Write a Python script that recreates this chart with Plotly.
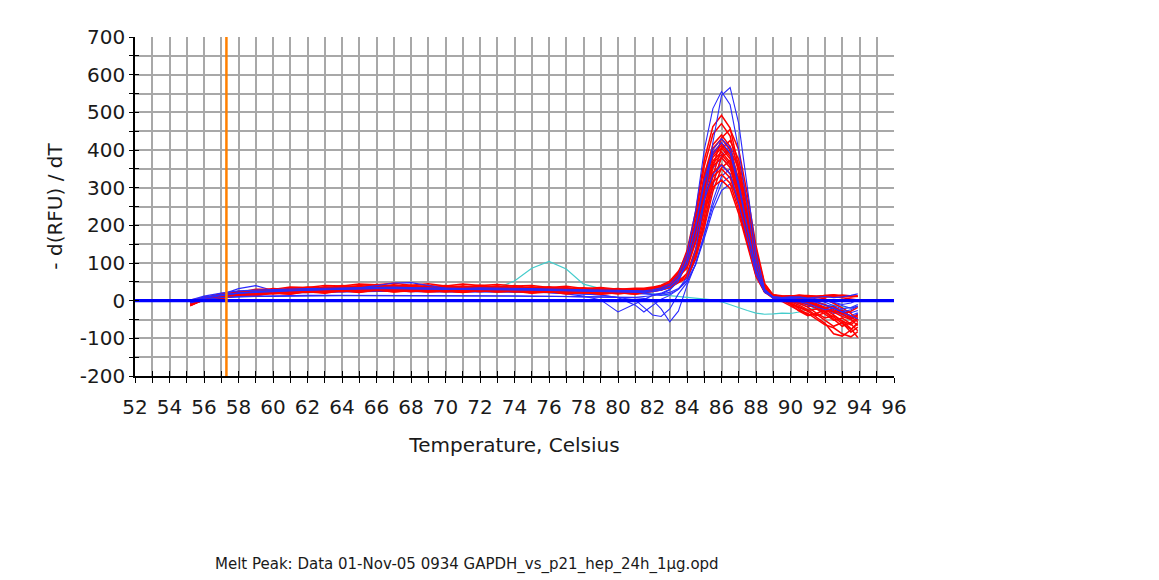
import plotly.graph_objects as go

# Melt-curve derivative data, -d(RFU)/dT versus temperature (Celsius)
TEMP_C = [55.2, 56, 57, 58, 59, 60, 61, 62, 63, 64, 65, 66, 67, 68, 69, 70,
          71, 72, 73, 74, 75, 76, 77, 78, 79, 80, 81, 81.5, 82, 82.5, 83, 83.5,
          84, 84.5, 85, 85.5, 86, 86.5, 87, 87.5, 88, 88.5, 89, 89.5, 90, 90.5,
          91, 91.5, 92, 92.5, 93, 93.5, 93.9]

# GAPDH wells (red)
red_01 = [-8, 8, 10, 21, 20, 27, 24, 31, 28, 34, 31, 37, 31, 34, 32, 33, 30, 36, 30, 33, 28, 32, 26, 29, 24, 27, 23,
          27, 30, 35, 46, 72, 133, 236, 374, 462, 492, 458, 354, 226, 98, 34,
          16, 13, 12, 14, 12, 10, 13, 15, 12, 10, 12]
red_02 = [-3, 4, 18, 18, 27, 25, 32, 29, 36, 33, 40, 35, 42, 35, 39, 34, 38, 33, 39, 32, 36, 30, 34, 28, 32, 26, 30,
          30, 33, 38, 48, 74, 127, 226, 357, 442, 470, 437, 338, 216, 94, 33,
          12, 8, 5, 2, -6, -15, -22, -30, -42, -50, -40]
red_03 = [-14, 4, 8, 17, 17, 22, 21, 26, 24, 29, 27, 30, 28, 30, 25, 30, 24, 29, 26, 28, 23, 27, 21, 24, 19, 23, 20,
          22, 24, 28, 35, 50, 73, 137, 237, 355, 432, 455, 400, 282, 146, 46,
          14, 8, -5, -22, -38, -36, -52, -68, -58, -84, -70]
red_04 = [2, 7, 19, 22, 30, 30, 36, 35, 40, 39, 44, 42, 46, 41, 45, 39, 44, 40, 43, 39, 40, 35, 38, 32, 35, 30, 33,
          33, 36, 41, 52, 78, 119, 211, 334, 414, 440, 409, 317, 202, 88, 31,
          10, 2, -10, -18, -28, -44, -60, -88, -94, -78, -58]
red_05 = [-6, 6, 9, 19, 18, 25, 22, 29, 25, 32, 28, 34, 29, 32, 29, 31, 28, 32, 29, 31, 26, 30, 24, 27, 22, 25, 22,
          25, 28, 33, 43, 68, 116, 206, 327, 404, 430, 400, 310, 198, 86, 30,
          12, 7, 1, -7, -17, -33, -46, -40, -54, -74, -98]
red_06 = [-2, 8, 11, 22, 21, 29, 26, 33, 30, 36, 33, 39, 34, 37, 34, 36, 33, 37, 32, 36, 30, 34, 28, 31, 26, 29, 25,
          26, 28, 31, 38, 54, 68, 128, 221, 332, 404, 425, 374, 264, 136, 43,
          15, 11, 6, -3, -11, -19, -30, -48, -68, -58, -44]
red_07 = [-10, 1, 11, 13, 19, 18, 23, 22, 26, 24, 28, 26, 29, 24, 29, 23, 28, 24, 29, 23, 26, 22, 24, 20, 23, 18, 23,
          23, 26, 31, 41, 65, 113, 201, 318, 393, 418, 389, 301, 192, 84, 29,
          15, 11, 13, 9, 3, -4, -11, -24, -36, -28, -18]
red_08 = [-4, 10, 14, 25, 24, 32, 29, 36, 33, 40, 37, 43, 38, 41, 37, 40, 36, 41, 36, 40, 33, 37, 31, 34, 29, 32, 27,
          30, 33, 37, 47, 70, 111, 198, 313, 387, 412, 383, 297, 190, 82, 29,
          10, 3, -9, -28, -40, -34, -24, -38, -54, -64, -48]
red_09 = [-7, 2, 14, 16, 23, 23, 28, 27, 31, 30, 34, 32, 36, 31, 35, 30, 34, 30, 35, 29, 32, 28, 30, 25, 28, 23, 27,
          27, 30, 34, 44, 68, 109, 194, 308, 381, 405, 377, 292, 186, 81, 28,
          12, 9, 13, 11, 7, 9, 5, -7, -19, -34, -52]
red_10 = [-5, 8, 12, 23, 22, 29, 26, 33, 29, 36, 32, 38, 33, 36, 33, 35, 32, 36, 33, 35, 30, 34, 28, 31, 26, 29, 24,
          26, 27, 30, 36, 50, 64, 120, 208, 312, 380, 400, 352, 248, 128, 40,
          14, 12, 10, 12, 14, 12, 14, 16, 13, 11, 13]
red_11 = [-12, 3, 6, 16, 14, 21, 18, 25, 21, 27, 23, 29, 24, 27, 24, 26, 23, 27, 24, 26, 21, 25, 19, 23, 18, 22, 18,
          22, 25, 30, 40, 64, 107, 190, 300, 371, 395, 367, 284, 182, 79, 28,
          8, 2, -6, -16, -26, -22, -36, -52, -46, -62, -80]
red_12 = [-1, 6, 17, 20, 27, 27, 32, 31, 36, 35, 39, 37, 41, 36, 40, 35, 39, 35, 39, 33, 36, 32, 34, 29, 32, 27, 30,
          29, 32, 36, 46, 69, 105, 186, 295, 365, 388, 361, 279, 178, 78, 27,
          13, 10, 8, 4, -2, -10, -20, -15, -30, -45, -38]
red_13 = [-6, 7, 9, 20, 19, 26, 23, 30, 26, 33, 29, 35, 30, 33, 30, 32, 29, 33, 30, 32, 27, 31, 25, 28, 23, 26, 21,
          25, 28, 33, 43, 66, 103, 182, 289, 357, 380, 353, 274, 175, 76, 27,
          11, 6, -2, -12, -24, -40, -32, -20, -34, -50, -66]
red_14 = [-3, 5, 16, 17, 25, 25, 29, 28, 33, 31, 35, 33, 37, 32, 36, 31, 35, 31, 36, 30, 33, 29, 31, 26, 29, 24, 28,
          25, 26, 29, 35, 48, 60, 112, 193, 290, 353, 372, 327, 231, 119, 37,
          13, 9, 4, 0, -6, -14, -28, -44, -60, -76, -62]
red_15 = [-9, 5, 8, 18, 17, 24, 21, 28, 24, 31, 27, 33, 28, 31, 28, 30, 27, 31, 27, 29, 24, 28, 22, 26, 21, 24, 20,
          24, 27, 32, 41, 63, 98, 174, 275, 340, 362, 337, 261, 167, 72, 25,
          10, 7, 9, 6, 0, -8, -18, -30, -26, -42, -56]
red_16 = [-4, 4, 15, 17, 24, 24, 29, 28, 32, 31, 35, 33, 36, 31, 36, 30, 35, 31, 35, 29, 32, 28, 30, 25, 28, 23, 27,
          26, 29, 34, 43, 65, 95, 168, 266, 329, 350, 326, 252, 161, 70, 25,
          12, 10, 12, 13, 10, 12, 9, 11, 8, 4, 2]
red_17 = [-13, 2, 5, 15, 13, 20, 17, 24, 20, 26, 22, 28, 23, 26, 23, 25, 22, 26, 23, 25, 20, 24, 18, 22, 17, 21, 17,
          21, 24, 29, 38, 60, 90, 161, 255, 315, 335, 312, 241, 154, 67, 23,
          6, -2, -14, -26, -34, -50, -64, -72, -88, -96, -82]
red_18 = [-2, 9, 12, 23, 22, 30, 27, 34, 31, 37, 34, 40, 35, 38, 35, 37, 34, 38, 34, 36, 31, 35, 29, 32, 27, 30, 25,
          28, 31, 35, 45, 66, 86, 154, 243, 301, 320, 298, 230, 147, 64, 22,
          13, 11, 12, 15, 13, 11, 14, 12, 15, 13, 11]

# p21 wells (blue)
blue_01 = [-4, 6, 13, 20, 23, 26, 27, 28, 30, 31, 31, 32, 32, 31, 31, 30, 30, 31, 31, 30, 29, 28, 27, 26, 25, 24, 23,
           20, 16, 14, 18, 30, 62, 135, 262, 420, 545, 566, 470, 300, 128, 30,
           5, 4, 6, 8, 5, 2, -4, -12, -22, -18, -10]
blue_02 = [2, 12, 20, 26, 28, 30, 31, 32, 33, 34, 35, 36, 36, 35, 34, 34, 33, 34, 34, 33, 32, 31, 30, 29, 28, 27, 26,
           26, 29, 34, 44, 68, 125, 240, 400, 510, 555, 520, 400, 250, 100, 30,
           10, 8, 6, 4, 1, -5, -12, -20, -30, -24, -15]
blue_03 = [-6, 3, 8, 11, 12, 13, 13, 14, 14, 14, 14, 15, 15, 14, 14, 13, 13, 14, 14, 13, 12, 12, 11, 10, 10, 9, 9,
           11, 13, 18, 28, 52, 110, 200, 320, 400, 430, 405, 312, 196, 84, 26,
           8, 5, 2, -2, -8, -16, -24, -20, -30, -40, -48]
blue_04 = [-3, 8, 15, 20, 22, 24, 25, 27, 29, 31, 34, 40, 47, 48, 40, 33, 30, 30, 30, 29, 28, 27, 26, 25, 24, 23, 22,
           22, 24, 28, 36, 58, 108, 196, 312, 390, 420, 392, 302, 190, 80, 24,
           9, 6, 8, 10, 7, 9, 11, 8, 10, 14, 18]
blue_05 = [-5, 7, 16, 32, 40, 27, 25, 26, 27, 28, 28, 29, 29, 28, 28, 27, 27, 28, 28, 27, 26, 25, 24, 23, 22, 21, 20,
           18, 17, 18, 22, 32, 55, 110, 200, 305, 385, 410, 360, 250, 120, 35,
           8, 4, 0, -5, -12, -22, -30, -26, -38, -48, -34]
blue_06 = [-2, 7, 13, 17, 19, 21, 22, 23, 24, 25, 25, 26, 26, 25, 25, 24, 24, 25, 25, 24, 23, 22, 18, 12, 2, -30, -8,
           4, 14, 20, 30, 52, 98, 178, 282, 352, 380, 354, 272, 172, 74, 22,
           7, 4, 2, 5, 3, -3, -10, -18, -26, -32, -26]
blue_07 = [-4, 5, 11, 15, 18, 20, 21, 22, 23, 24, 24, 25, 25, 24, 24, 23, 23, 24, 24, 23, 22, 21, 20, 18, 15, 8, 2,
           -18, -38, -42, -22, 18, 48, 96, 175, 265, 330, 350, 305, 214, 110, 30,
           6, 3, -2, -8, -16, -12, -22, -34, -28, -40, -32]
blue_08 = [-6, 3, 8, 10, 11, 11, 12, 12, 12, 13, 13, 13, 13, 13, 12, 12, 12, 13, 13, 12, 12, 11, 11, 10, 10, 9, 8,
           6, 2, -22, -56, -28, 40, 98, 172, 252, 312, 330, 290, 204, 104, 30,
           8, 6, 4, 6, 8, 5, 2, -6, -12, -20, -14]
blue_09 = [-3, 6, 12, 16, 19, 21, 22, 24, 25, 26, 27, 27, 27, 26, 26, 25, 25, 26, 26, 25, 24, 22, 20, 18, 15, 8, -12,
           -30, -12, 4, 14, 30, 52, 96, 165, 240, 292, 310, 275, 196, 100, 28,
           9, 7, 5, 2, -4, -10, -18, -28, -38, -46, -36]
blue_10 = [-1, 9, 16, 21, 24, 26, 28, 29, 30, 31, 32, 33, 33, 32, 32, 31, 31, 32, 32, 31, 30, 29, 28, 27, 26, 25, 24,
           24, 26, 30, 38, 60, 96, 170, 268, 335, 360, 336, 258, 163, 70, 22,
           10, 8, 10, 9, 6, 3, 0, -4, -10, -6, 2]

# no-template control (cyan)
ntc_01 = [-5, 6, 12, 17, 20, 22, 24, 25, 26, 27, 28, 28, 29, 28, 28, 28, 28, 30, 34, 52, 86, 104, 84, 44, 32, 26, 22,
          20, 18, 16, 14, 12, 10, 8, 6, 2, -3, -10, -18, -26, -33, -36,
          -35, -33, -34, -30, -24, -18, -14, -12, -16, -20, -15]

RED_SERIES = [red_01, red_02, red_03, red_04, red_05, red_06, red_07, red_08, red_09,
              red_10, red_11, red_12, red_13, red_14, red_15, red_16, red_17, red_18]
BLUE_UNDER = [blue_05, blue_06, blue_07, blue_08, blue_09]
BLUE_OVER = [blue_01, blue_02, blue_03, blue_04, blue_10]

THRESHOLD = [0, 0]
THRESHOLD_SPAN = [52, 96]
MARKER_TEMP = [57.3, 57.3]
MARKER_SPAN = [-200, 700]

X_TICKS = [52, 54, 56, 58, 60, 62, 64, 66, 68, 70, 72, 74, 76, 78, 80, 82, 84, 86, 88, 90, 92, 94, 96]
Y_TICKS = [-200, -100, 0, 100, 200, 300, 400, 500, 600, 700]

for s in RED_SERIES + BLUE_UNDER + BLUE_OVER + [ntc_01]:
    assert len(s) == len(TEMP_C)

RED = "#ff0000"
BLUE = "#2a2aff"
CYAN = "#44cccc"
GRID = "#a8a8a8"
FONT = "DejaVu Sans, Verdana, sans-serif"


def add_curve(fig, values, color, width):
    fig.add_trace(go.Scatter(x=TEMP_C, y=values, mode="lines",
                             line=dict(color=color, width=width), showlegend=False))


fig = go.Figure()
add_curve(fig, ntc_01, CYAN, 1.2)
for s in BLUE_UNDER:
    add_curve(fig, s, BLUE, 1.1)
for s in RED_SERIES:
    add_curve(fig, s, RED, 1.5)
for s in BLUE_OVER:
    add_curve(fig, s, BLUE, 1.1)

# threshold line and temperature marker sit on an overlay subplot (drawn on top)
fig.add_trace(go.Scatter(x=THRESHOLD_SPAN, y=THRESHOLD, mode="lines",
                         line=dict(color="#0000ff", width=3.2), showlegend=False,
                         xaxis="x2", yaxis="y2"))
fig.add_trace(go.Scatter(x=MARKER_TEMP, y=MARKER_SPAN, mode="lines",
                         line=dict(color="#ff8000", width=2.5), showlegend=False,
                         xaxis="x2", yaxis="y2"))

axis_font = dict(family=FONT, size=20, color="#1a1a1a")

fig.update_layout(
    width=1159, height=580,
    margin=dict(l=135, r=265, t=37, b=204),
    paper_bgcolor="white", plot_bgcolor="white",
    font=dict(family=FONT, color="#1a1a1a"),
    xaxis=dict(
        range=[52, 96], tickvals=X_TICKS, ticktext=[str(v) for v in X_TICKS],
        ticks="outside", ticklen=5, tickwidth=1.3, tickcolor="black",
        tickfont=axis_font, ticklabelstandoff=7,
        showline=True, linecolor="black", linewidth=1.5,
        showgrid=True, gridcolor=GRID, gridwidth=1.5, zeroline=False,
        minor=dict(dtick=1, tick0=52, ticks="outside", ticklen=5, tickwidth=1.3,
                   tickcolor="black", showgrid=True, gridcolor=GRID, gridwidth=1.5),
        title=dict(text="Temperature, Celsius", font=dict(family=FONT, size=20, color="#1a1a1a"),
                   standoff=20),
        fixedrange=True,
    ),
    yaxis=dict(
        range=[-200, 700], tickvals=Y_TICKS, ticktext=[str(v) for v in Y_TICKS],
        ticks="outside", ticklen=4, tickwidth=1.3, tickcolor="black",
        tickfont=axis_font, showline=True, linecolor="black", linewidth=1.5,
        showgrid=True, gridcolor=GRID, gridwidth=1.5, zeroline=False,
        minor=dict(dtick=50, tick0=0, ticks="outside", ticklen=4, tickwidth=1.3,
                   tickcolor="black", showgrid=True, gridcolor=GRID, gridwidth=1.5),
        title=dict(text="- d(RFU) / dT", font=dict(family=FONT, size=20, color="#1a1a1a"),
                   standoff=12),
        fixedrange=True,
    ),
    xaxis2=dict(
        range=[52, 96], overlaying="x", anchor="y", side="bottom",
        tickvals=X_TICKS, ticks="inside", ticklen=5, tickwidth=1.3, tickcolor="black",
        showticklabels=False, showgrid=False, showline=False, zeroline=False,
        minor=dict(dtick=1, tick0=52, ticks="inside", ticklen=5, tickwidth=1.3,
                   tickcolor="black", showgrid=False),
        fixedrange=True,
    ),
    yaxis2=dict(
        range=[-200, 700], overlaying="y", anchor="x", side="left",
        tickvals=Y_TICKS, ticks="inside", ticklen=4, tickwidth=1.3, tickcolor="black",
        showticklabels=False, showgrid=False, showline=False, zeroline=False,
        minor=dict(dtick=50, tick0=0, ticks="inside", ticklen=4, tickwidth=1.3,
                   tickcolor="black", showgrid=False),
        fixedrange=True,
    ),
    annotations=[dict(
        text="Melt Peak: Data 01-Nov-05 0934 GAPDH_vs_p21_hep_24h_1µg.opd",
        xref="paper", yref="paper", x=0.4374, y=-0.5575,
        xanchor="center", yanchor="middle", showarrow=False,
        font=dict(family=FONT, size=15, color="#1a1a1a"),
    )],
)

fig.write_html("out.html")
